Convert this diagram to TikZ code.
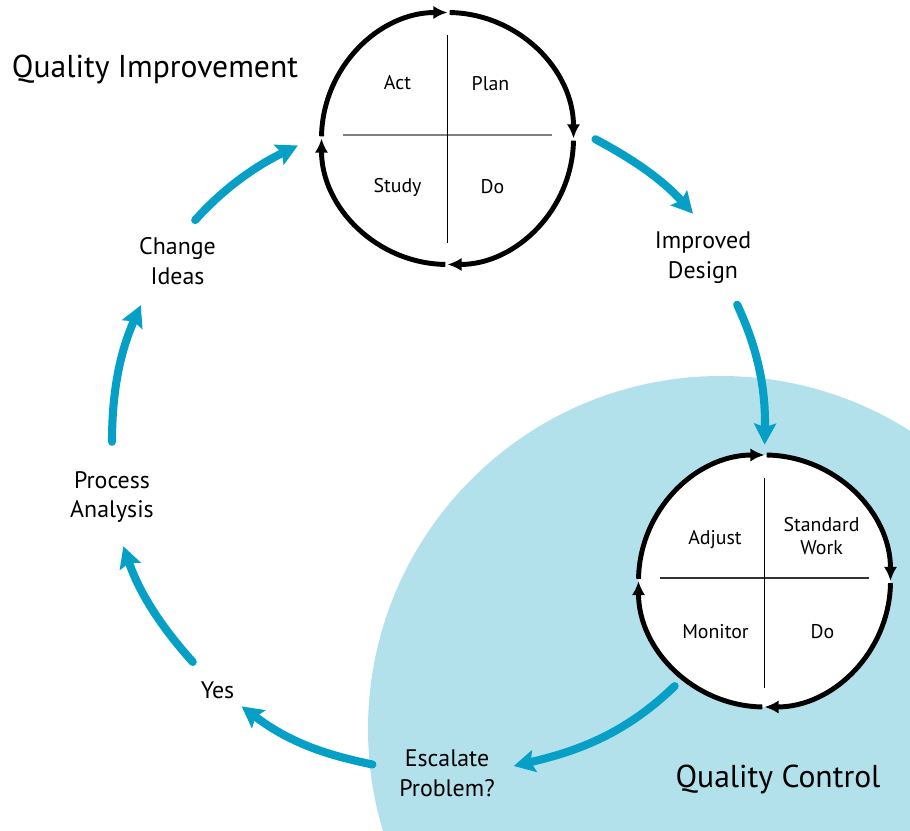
\documentclass[tikz,border=0pt]{standalone}
\usepackage{fontspec}
\setmainfont{PT Sans}
\usetikzlibrary{arrows.meta,positioning}

\definecolor{loopblue}{RGB}{6,160,198}
\definecolor{qcfill}{RGB}{178,225,236}

\begin{document}
\begin{tikzpicture}[x=0.02cm,y=0.02cm,
    cyclearrow/.style={loopblue,line width=4.6pt,line cap=round,-{Stealth[length=12pt,width=12.5pt,inset=2pt]}},
    ringarc/.style={line width=2.8pt,-{Latex[length=8pt,width=7.5pt]}},
    wheel/.style={circle,fill=white,minimum size=5.04cm,inner sep=0pt},
    quadtext/.style={font=\fontsize{11.3}{13}\selectfont,align=center},
    steptext/.style={font=\fontsize{13.6}{17}\selectfont,align=center,inner sep=4pt},
    headline/.style={font=\fontsize{18}{22}\selectfont}]

\useasboundingbox (0,0) rectangle (910,831);
\begin{scope}
  \clip (0,0) rectangle (910,831);
  \fill[qcfill] (721,102) circle[radius=353];
\end{scope}

\node[headline] (qi) at (155,762) {Quality Improvement};
\node[headline] (qc) at (778,52) {Quality Control};

% improvement wheel
\node[wheel] (pdsa) at (447.5,692.5) {};
\draw[gray,line width=1.4pt] (pdsa.center) ++(-104.5,3.5) -- ++(209,0);
\draw[line width=1pt] (pdsa.center) ++(0,103.5) -- ++(0,-208);
\foreach \a in {90,0,-90,-180}
  \draw[ringarc] (pdsa.center) ++(\a-1:126) arc[start angle=\a-1,end angle=\a-90,radius=126];
\node[quadtext] (act) at ([shift={(-50,56)}]pdsa.center) {Act};
\node[quadtext] (plan) at ([shift={(43,54.5)}]pdsa.center) {Plan};
\node[quadtext] (study) at ([shift={(-50,-49)}]pdsa.center) {Study};
\node[quadtext] (do) at ([shift={(45,-48)}]pdsa.center) {Do};

% control wheel
\node[wheel] (sdam) at (764.5,250) {};
\draw[black!80,line width=1.1pt] (sdam.center) ++(-104.5,2.7) -- ++(209,0);
\draw[line width=1pt] (sdam.center) ++(0,103) -- ++(0,-210);
\foreach \a in {90,0,-90,-180}
  \draw[ringarc] (sdam.center) ++(\a-1:126) arc[start angle=\a-1,end angle=\a-90,radius=126];
\node[quadtext] (adjust) at ([shift={(-49.5,41.5)}]sdam.center) {Adjust};
\node[quadtext] (stdwork) at ([shift={(57,45)}]sdam.center) {Standard\\Work};
\node[quadtext] (monitor) at ([shift={(-49,-50.5)}]sdam.center) {Monitor};
\node[quadtext] (sdo) at ([shift={(58,-50.5)}]sdam.center) {Do};

% cycle steps
\node[steptext] (ci) at (177.5,569.5) {Change\\Ideas};
\node[steptext] (id) at (703,573) {Improved\\Design};
\node[steptext] (pa) at (112,334) {Process\\Analysis};
\node[steptext] (yes) at (217.5,140.5) {Yes};
\node[steptext] (ep) at (447,57.5) {Escalate\\Problem?};

\draw[cyclearrow,shorten <=0.28cm,shorten >=0.52cm] (ci.75) to[out=48,in=206] (pdsa.178);
\draw[cyclearrow,shorten <=0.5cm,shorten >=0.3cm] (pdsa.5) to[out=-28,in=132] (id.north);
\draw[cyclearrow,shorten <=0.3cm,shorten >=0.2cm] (id.-50) to[out=-65,in=89] (sdam.north);
\draw[cyclearrow,shorten <=0.24cm,shorten >=0.24cm] (sdam.-130) to[out=-136,in=13] (ep.5);
\draw[cyclearrow,shorten <=0.4cm] (ep.175) to[out=168,in=-37] (yes.south east);
\draw[cyclearrow,shorten <=0.34cm,shorten >=0.34cm] (yes.130) to[out=132,in=-71] (pa.-80);
\draw[cyclearrow,shorten <=0.44cm,shorten >=0.28cm] (pa.north) to[out=90,in=-114] (ci.-135);
\end{tikzpicture}
\end{document}
